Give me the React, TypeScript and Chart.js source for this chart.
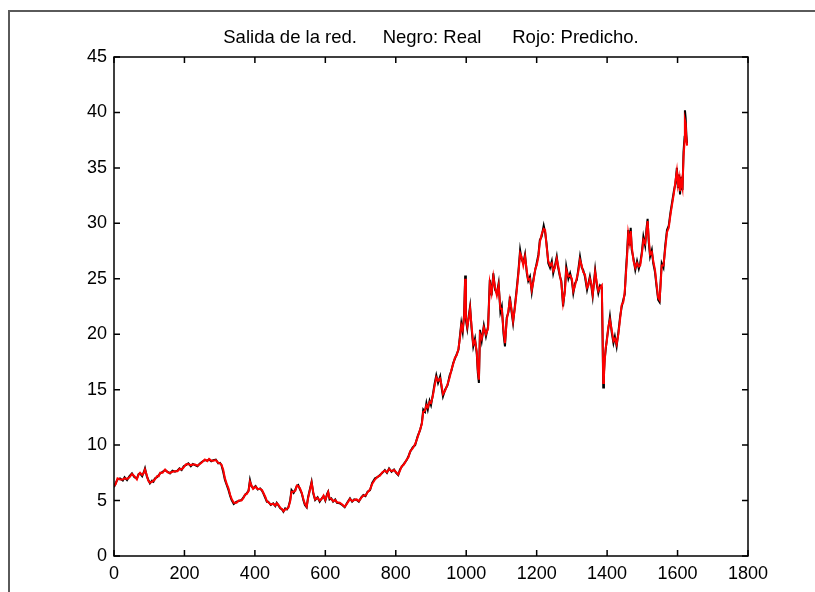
import React, { useEffect, useRef } from "react";
import { Chart, registerables } from "chart.js";

Chart.register(...registerables);

const chartTitle = "Salida de la red.     Negro: Real      Rojo: Predicho.";
const xTicks = [0, 200, 400, 600, 800, 1000, 1200, 1400, 1600, 1800];
const yTicks = [0, 5, 10, 15, 20, 25, 30, 35, 40, 45];

const sampleIndex = [
  0, 5, 10, 17, 25, 30, 37, 44, 51, 58,
  65, 70, 74, 80, 85, 88, 93, 97, 102, 108,
  112, 116, 122, 127, 131, 138, 145, 152, 159, 166,
  173, 180, 186, 192, 198, 204, 211, 218, 224, 230,
  237, 244, 250, 258, 265, 270, 276, 282, 289, 296,
  301, 305, 310, 315, 320, 325, 330, 334, 340, 348,
  354, 362, 368, 372, 377, 382, 386, 390, 395, 402,
  408, 415, 420, 424, 430, 434, 438, 445, 452, 458,
  462, 466, 472, 477, 481, 486, 491, 495, 500, 504,
  510, 515, 519, 523, 528, 533, 538, 542, 547, 551,
  556, 561, 566, 571, 578, 584, 590, 595, 600, 605,
  608, 612, 617, 622, 628, 633, 641, 648, 655, 662,
  670, 676, 682, 689, 695, 702, 708, 714, 720, 727,
  733, 741, 748, 755, 762, 769, 775, 781, 788, 795,
  801, 807, 812, 817, 823, 831, 836, 841, 848, 855,
  862, 869, 874, 878, 883, 887, 891, 896, 900, 905,
  910, 915, 920, 926, 930, 934, 940, 947, 953, 958,
  963, 968, 973, 978, 982, 986, 990, 994, 997, 999,
  1003, 1007, 1011, 1015, 1020, 1025, 1030, 1033, 1036, 1039,
  1044, 1050, 1056, 1062, 1067, 1072, 1077, 1082, 1087, 1092,
  1097, 1101, 1106, 1110, 1115, 1120, 1124, 1128, 1133, 1138,
  1143, 1148, 1153, 1157, 1162, 1167, 1172, 1176, 1181, 1186,
  1191, 1196, 1200, 1205, 1209, 1214, 1220, 1224, 1228, 1233,
  1238, 1243, 1247, 1252, 1257, 1261, 1266, 1270, 1275, 1280,
  1284, 1290, 1295, 1300, 1304, 1309, 1314, 1318, 1323, 1328,
  1332, 1337, 1343, 1347, 1351, 1355, 1359, 1363, 1366, 1370,
  1375, 1380, 1385, 1387, 1389, 1391, 1393, 1396, 1399, 1403,
  1408, 1413, 1418, 1422, 1427, 1432, 1437, 1441, 1446, 1450,
  1453, 1457, 1460, 1464, 1467, 1470, 1475, 1480, 1485, 1490,
  1494, 1499, 1503, 1508, 1512, 1515, 1518, 1522, 1527, 1531,
  1536, 1540, 1545, 1549, 1552, 1555, 1560, 1565, 1570, 1575,
  1580, 1585, 1590, 1594, 1598, 1601, 1604, 1607, 1610, 1614,
  1617, 1620, 1621, 1623, 1625, 1627,
];

const realOutput = [
  6.2, 6.6, 6.9, 7.0, 6.8, 7.1, 6.85, 7.2, 7.45, 7.1,
  7.0, 7.4, 7.45, 7.2, 7.6, 7.9, 7.2, 6.9, 6.55, 6.8,
  6.7, 7.0, 7.1, 7.3, 7.45, 7.6, 7.75, 7.6, 7.45, 7.7,
  7.6, 7.7, 7.9, 7.75, 8.1, 8.2, 8.35, 8.1, 8.3, 8.2,
  8.1, 8.35, 8.5, 8.65, 8.6, 8.7, 8.55, 8.65, 8.7, 8.35,
  8.4, 8.2, 7.6, 6.85, 6.4, 5.95, 5.4, 5.05, 4.7, 4.9,
  4.95, 5.05, 5.3, 5.5, 5.65, 5.9, 6.85, 6.3, 6.1, 6.3,
  6.0, 6.1, 5.9, 5.65, 5.2, 4.9, 4.9, 4.6, 4.75, 4.5,
  4.8, 4.6, 4.3, 4.2, 4.0, 4.3, 4.2, 4.4, 5.0, 5.95,
  5.7, 6.0, 6.3, 6.4, 6.0, 5.65, 5.0, 4.6, 4.4, 5.3,
  6.0, 6.7, 5.6, 5.05, 5.3, 4.9, 5.2, 5.4, 5.0, 5.6,
  5.8, 5.1, 5.2, 4.9, 5.1, 4.8, 4.75, 4.6, 4.4, 4.8,
  5.2, 4.9, 5.1, 5.05, 4.9, 5.3, 5.5, 5.4, 5.8, 5.95,
  6.6, 7.0, 7.1, 7.3, 7.5, 7.75, 7.5, 7.9, 7.6, 7.8,
  7.5, 7.3, 7.8, 8.05, 8.3, 8.65, 9.0, 9.4, 9.8, 10.0,
  10.8, 11.35, 12.0, 13.2, 13.0, 13.8, 13.2, 14.0, 13.6, 14.5,
  15.5, 16.3, 15.6, 16.2, 15.2, 14.4, 15.0, 15.4, 16.3, 16.7,
  17.4, 17.8, 18.2, 18.6, 19.8, 21.0, 20.2, 21.8, 25.3, 21.3,
  20.5, 21.6, 22.5, 20.6, 18.9, 19.6, 18.2, 16.5, 15.6, 20.4,
  19.4, 20.8, 19.8, 20.7, 24.9, 23.5, 25.5, 24.0, 23.7, 24.6,
  22.0, 22.5, 20.0, 18.9, 21.5, 22.0, 23.4, 22.2, 21.0, 22.5,
  24.0, 25.6, 27.6, 26.8, 26.4, 27.2, 25.5, 24.8, 25.2, 23.8,
  25.0, 25.8, 26.4, 27.2, 28.5, 28.8, 29.8, 29.2, 28.2, 26.4,
  26.0, 26.6, 25.5, 26.2, 27.0, 26.0, 25.2, 24.8, 22.5, 24.0,
  26.1, 25.0, 25.5, 24.8, 23.7, 24.6, 24.9, 25.8, 27.0, 26.0,
  25.8, 25.2, 24.0, 24.6, 25.2, 24.4, 23.4, 24.8, 25.8, 24.6,
  23.7, 24.4, 24.2, 20.0, 15.2, 16.5, 17.7, 18.6, 19.5, 20.4,
  21.6, 20.2, 19.2, 19.8, 18.9, 20.2, 21.6, 22.4, 23.1, 23.6,
  25.5, 27.5, 29.4, 28.0, 29.6, 27.6, 26.8, 25.8, 26.6, 25.9,
  26.4, 27.5, 28.8, 28.0, 29.6, 30.4, 28.4, 27.0, 27.6, 26.4,
  25.6, 24.4, 23.1, 22.9, 24.8, 26.4, 26.0, 28.0, 29.4, 29.8,
  31.0, 32.0, 33.0, 33.6, 35.0, 33.2, 34.4, 32.6, 34.2, 33.0,
  36.5, 37.8, 40.2, 39.5, 38.0, 37.2,
];

const predictedOutput = [
  6.3, 6.5, 7.0, 6.9, 6.9, 7.0, 6.95, 7.1, 7.4, 7.2,
  6.9, 7.35, 7.5, 7.3, 7.5, 7.8, 7.3, 6.8, 6.6, 6.7,
  6.8, 6.9, 7.2, 7.2, 7.5, 7.5, 7.8, 7.55, 7.5, 7.6,
  7.65, 7.65, 7.85, 7.8, 8.0, 8.25, 8.3, 8.2, 8.25, 8.25,
  8.15, 8.3, 8.45, 8.7, 8.55, 8.75, 8.6, 8.6, 8.65, 8.4,
  8.35, 8.25, 7.8, 7.0, 6.5, 6.1, 5.5, 5.15, 4.8, 4.8,
  5.0, 5.0, 5.25, 5.55, 5.6, 5.85, 6.7, 6.4, 6.05, 6.25,
  6.05, 6.05, 5.95, 5.7, 5.3, 4.95, 4.85, 4.65, 4.7, 4.55,
  4.75, 4.65, 4.35, 4.25, 4.05, 4.2, 4.25, 4.35, 4.9, 5.8,
  5.8, 5.9, 6.35, 6.3, 6.1, 5.7, 5.1, 4.7, 4.45, 5.2,
  5.9, 6.6, 5.7, 5.1, 5.25, 5.0, 5.15, 5.45, 5.05, 5.5,
  5.75, 5.2, 5.15, 4.95, 5.05, 4.85, 4.8, 4.65, 4.45, 4.75,
  5.15, 4.95, 5.05, 5.1, 4.95, 5.25, 5.45, 5.45, 5.75, 6.0,
  6.5, 6.9, 7.15, 7.25, 7.55, 7.7, 7.55, 7.85, 7.65, 7.75,
  7.55, 7.35, 7.7, 8.1, 8.25, 8.7, 8.9, 9.45, 9.7, 10.1,
  10.7, 11.4, 11.9, 13.0, 13.1, 13.6, 13.4, 13.9, 13.8, 14.4,
  15.3, 16.1, 15.8, 16.0, 15.4, 14.6, 14.9, 15.5, 16.1, 16.8,
  17.3, 17.9, 18.1, 18.7, 19.6, 20.8, 20.4, 21.6, 25.0, 21.6,
  20.7, 21.4, 22.3, 20.8, 19.1, 19.4, 18.4, 16.8, 15.9, 20.0,
  19.6, 20.6, 20.0, 20.5, 24.6, 23.7, 25.2, 24.2, 23.5, 24.4,
  22.3, 22.3, 20.3, 19.2, 21.3, 22.2, 23.1, 22.4, 21.2, 22.3,
  23.8, 25.4, 27.3, 27.0, 26.2, 27.0, 25.7, 24.9, 25.0, 24.0,
  24.8, 25.9, 26.2, 27.0, 28.3, 29.0, 29.5, 29.4, 28.0, 26.6,
  26.2, 26.4, 25.7, 26.0, 26.8, 26.2, 25.3, 24.6, 22.8, 23.8,
  25.8, 25.2, 25.3, 25.0, 23.9, 24.4, 25.1, 25.6, 26.7, 26.2,
  25.6, 25.4, 24.2, 24.4, 25.0, 24.6, 23.6, 24.6, 25.6, 24.8,
  23.9, 24.2, 24.4, 20.5, 15.6, 16.2, 17.5, 18.8, 19.3, 20.6,
  21.3, 20.4, 19.4, 19.6, 19.1, 20.0, 21.4, 22.6, 22.9, 23.8,
  25.2, 27.2, 29.1, 28.3, 29.3, 27.9, 26.6, 26.0, 26.4, 26.1,
  26.2, 27.3, 28.5, 28.2, 29.3, 30.2, 28.7, 27.2, 27.4, 26.6,
  25.8, 24.6, 23.3, 23.1, 24.5, 26.2, 26.2, 27.7, 29.2, 29.6,
  30.8, 31.8, 32.8, 33.8, 34.7, 33.5, 34.1, 32.9, 33.9, 33.2,
  36.0, 37.4, 39.3, 39.0, 37.7, 37.0,
];

const FONT_FAMILY = '"Liberation Sans", Arial, Helvetica, sans-serif';

const matlabFrame = {
  id: "matlabFrame",
  afterDraw(chart: any) {
    const ctx = chart.ctx as CanvasRenderingContext2D;
    const area = chart.chartArea;
    const xs = chart.scales.x;
    const ys = chart.scales.y;
    ctx.save();
    // figure frame
    ctx.fillStyle = "#5a5a5a";
    ctx.fillRect(8, 10, chart.width - 8, 2);
    ctx.fillRect(8, 10, 2, chart.height - 10);
    // axes box
    ctx.strokeStyle = "#000";
    ctx.lineWidth = 1.5;
    ctx.strokeRect(area.left, area.top, area.right - area.left, area.bottom - area.top);
    // inward ticks
    const tl = 6;
    ctx.lineWidth = 1.5;
    ctx.beginPath();
    xTicks.forEach((v) => {
      const px = xs.getPixelForValue(v);
      ctx.moveTo(px, area.bottom);
      ctx.lineTo(px, area.bottom - tl);
      ctx.moveTo(px, area.top);
      ctx.lineTo(px, area.top + tl);
    });
    yTicks.forEach((v) => {
      const py = ys.getPixelForValue(v);
      ctx.moveTo(area.left, py);
      ctx.lineTo(area.left + tl, py);
      ctx.moveTo(area.right, py);
      ctx.lineTo(area.right - tl, py);
    });
    ctx.stroke();
    // title
    ctx.fillStyle = "#000";
    ctx.font = "18.5px " + FONT_FAMILY;
    ctx.textAlign = "center";
    ctx.textBaseline = "alphabetic";
    ctx.fillText(chartTitle, (area.left + area.right) / 2, 43);
    ctx.restore();
  },
};

export default function App() {
  const canvasRef = useRef<HTMLCanvasElement | null>(null);

  useEffect(() => {
    if (!canvasRef.current) return;
    const real = sampleIndex.map((x, i) => ({ x, y: realOutput[i] }));
    const pred = sampleIndex.map((x, i) => ({ x, y: predictedOutput[i] }));
    const chart = new Chart(canvasRef.current, {
      type: "line",
      data: {
        datasets: [
          {
            label: "Predicho",
            data: pred,
            borderColor: "#ff0000",
            borderWidth: 2,
            pointRadius: 0,
            tension: 0,
            order: 1,
          },
          {
            label: "Real",
            data: real,
            borderColor: "#000000",
            borderWidth: 2,
            pointRadius: 0,
            tension: 0,
            order: 2,
          },
        ],
      },
      options: {
        responsive: false,
        animation: false,
        devicePixelRatio: 1,
        layout: { padding: { left: 0, top: 57, right: 67, bottom: 0 } },
        plugins: {
          legend: { display: false },
          title: { display: false },
          tooltip: { enabled: false },
        },
        scales: {
          x: {
            type: "linear",
            min: 0,
            max: 1800,
            afterBuildTicks: (s: any) => {
              s.ticks = xTicks.map((v) => ({ value: v }));
            },
            afterFit: (s: any) => {
              s.height = 36;
            },
            grid: { display: false, drawTicks: false },
            border: { display: false },
            ticks: {
              autoSkip: false,
              maxRotation: 0,
              padding: 7,
              color: "#000",
              font: { family: FONT_FAMILY, size: 18 },
              callback: (v: any) => String(v),
            },
          },
          y: {
            type: "linear",
            min: 0,
            max: 45,
            afterBuildTicks: (s: any) => {
              s.ticks = yTicks.map((v) => ({ value: v }));
            },
            afterFit: (s: any) => {
              s.width = 114;
            },
            grid: { display: false, drawTicks: false },
            border: { display: false },
            ticks: {
              autoSkip: false,
              padding: 7,
              color: "#000",
              font: { family: FONT_FAMILY, size: 18 },
              callback: (v: any) => String(v),
            },
          },
        },
      },
      plugins: [matlabFrame],
    });
    return () => chart.destroy();
  }, []);

  return (
    <div style={{ position: "absolute", left: 0, top: 0, width: 815, height: 592, background: "#fff" }}>
      <canvas ref={canvasRef} width={815} height={592} style={{ width: 815, height: 592, display: "block" }} />
    </div>
  );
}
